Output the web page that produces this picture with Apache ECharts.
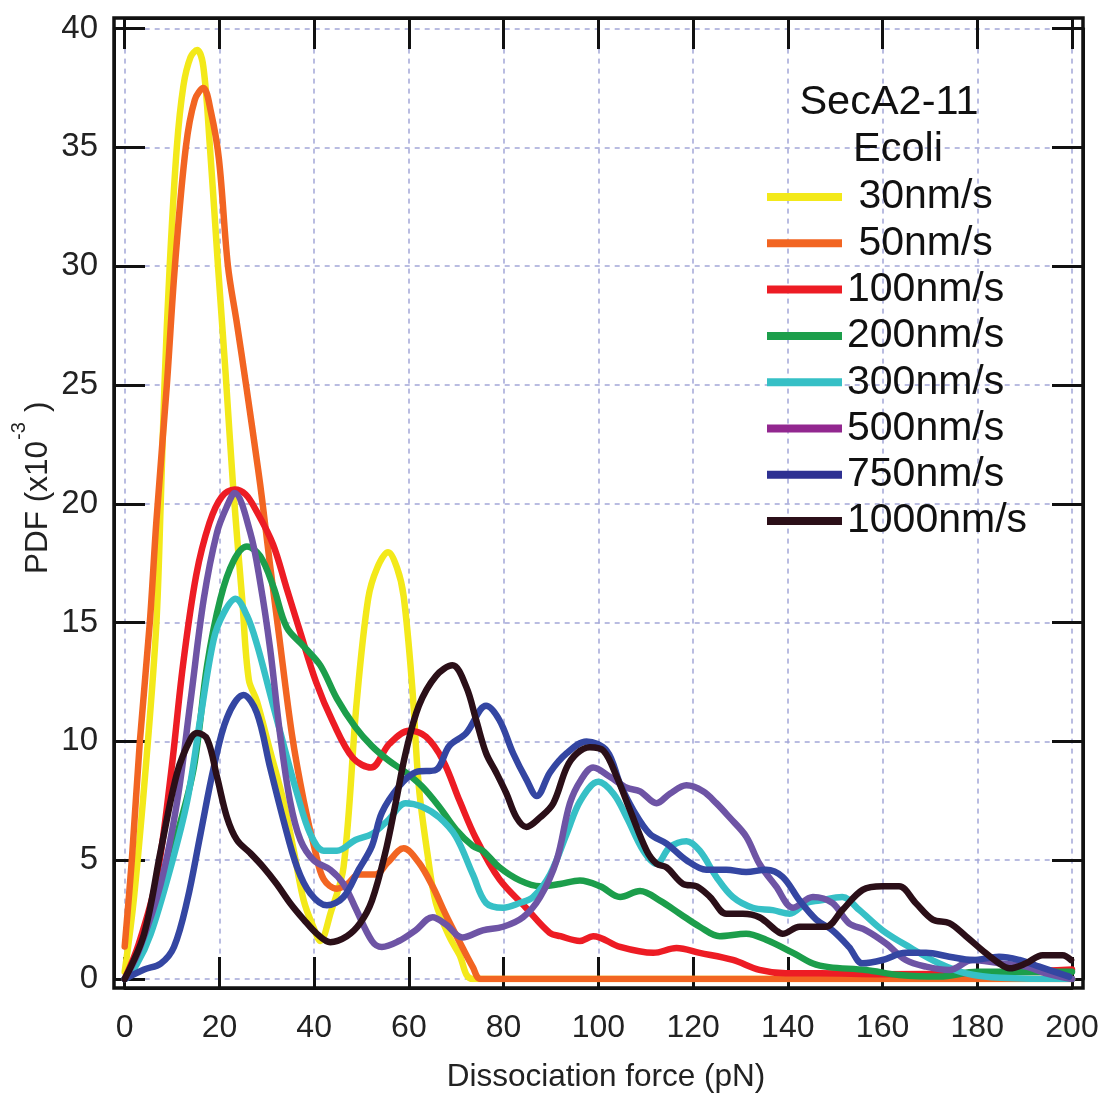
<!DOCTYPE html>
<html>
<head>
<meta charset="utf-8">
<script src="https://cdn.jsdelivr.net/npm/echarts@6/dist/echarts.min.js"></script>
<style>html,body{margin:0;padding:0;background:#fff}#c{width:1104px;height:1095px}</style>
</head>
<body>
<div id="c"></div>
<script>
// ---- data (force in pN, PDF x1e-3) ----
const seriesNames = ['30nm/s','50nm/s','100nm/s','200nm/s','300nm/s','500nm/s','750nm/s','1000nm/s'];
const xTicks = [0,20,40,60,80,100,120,140,160,180,200];
const yTicks = [0,5,10,15,20,25,30,35,40];

const x30 = [0,2,4.9,6.7,7.6,8.4,9.5,11.0,12.4,13.9,15.3,16.6,18.0,19.7,21.3,22.9,24.8,26.2,27.9,30.7,33.5,35.7,37.8,39.8,41.3,43.5,46.2,49.0,51.4,53.3,55.6,57.5,58.9,60.7,62.1,63.9,65.7,68.5,70.6,73.5,100,150,200];
const y30 = [0.3,3.5,10,15,20,25,30,35,37.6,38.8,39.1,38.4,35,30,25.5,20.7,16.0,12.6,11.7,9.6,7.5,5.4,3.3,2.2,1.6,2.8,4.7,11.7,16.0,17.3,17.96,17.3,16.1,12.3,8.1,5.3,3.2,1.8,1.05,0,0,0,0];

const x50 = [0,1.5,3.2,5.3,6.7,8.9,10.6,12.9,14.8,16.6,18.2,19.9,21.8,23.6,25.7,28.2,29.0,30.7,32.5,35.3,37.8,40.2,42.0,44.8,47,49.4,52.9,55.5,58.9,62.1,65.0,67.8,70.6,73.5,75.2,100,150,200];
const y50 = [1.37,5,10,15,19.3,25,30,35,37.0,37.5,36.5,34.5,30,27.7,24.9,21.4,20.2,17.4,14.6,10.3,7.5,5.4,4.2,3.8,4.0,4.4,4.4,4.9,5.5,4.9,3.9,2.7,1.6,0.5,0,0,0,0];

const x100 = [0,3,6.7,9.8,12.3,15.1,17.9,20.5,23.2,25.5,27.8,31.3,34.1,36.9,40.4,44.0,48.2,52.0,55.9,60.1,63.6,67.2,70.7,74.2,79.1,84.7,89.7,92,96.1,98.9,104.6,111.6,116.5,121.4,128.4,134,139.6,146.7,160,180,200];
const y100 = [0,1.5,4.2,8.7,13.2,17.0,19.2,20.3,20.6,20.4,19.7,18.3,16.5,14.7,12.5,10.8,9.3,8.9,9.9,10.45,10.2,9.2,7.5,5.9,4.2,3.0,1.95,1.8,1.6,1.8,1.35,1.1,1.3,1.1,0.8,0.38,0.24,0.24,0.2,0.25,0.4];

const x200 = [0,1.3,3.5,6.2,8.5,11.1,14.6,17.4,20.2,23.0,25.8,28.6,31.4,34.2,37.8,41.3,44.8,48.7,52.2,55.7,59.3,62.8,66.4,69.9,73.5,75.6,79.1,83.4,87.7,91.9,96.1,100.4,104.6,108.8,113,117.2,121.4,125.6,131.2,135.4,141.1,145.3,148.7,156.5,163.5,172,180,190,200];
const y200 = [0,0.2,1.2,2.6,4.2,6.1,8.9,13.2,16.0,17.6,18.2,17.8,16.5,14.8,14.0,13.2,11.8,10.6,9.8,9.2,8.7,8.1,7.25,6.3,5.6,5.4,4.7,4.15,3.9,4.0,4.15,3.9,3.45,3.7,3.3,2.75,2.2,1.8,1.9,1.65,1.1,0.65,0.5,0.38,0.17,0.1,0.3,0.3,0.3];

const x300 = [0,2.5,5.5,9.7,13.2,16.0,18.8,20.9,23.4,25.8,27.9,30.7,33.5,36.4,39.2,42.0,44.8,48.7,52.2,55.7,59.3,62.8,66.4,69.9,73.5,76.3,79.9,83.4,86.2,89.8,93.3,96.2,100,103.2,106,109.5,112.3,115.1,118.6,121.4,124.9,128.4,132.6,136.8,140.4,143.9,146.7,151.5,155.1,160,165.6,172,177.6,185,200];
const y300 = [0,0.6,1.9,4.7,7.5,11.0,14.3,15.4,16.0,15.3,14.1,12.0,9.9,7.8,6.1,5.4,5.4,5.85,6.1,6.7,7.4,7.25,6.8,6.0,4.4,3.2,3.0,3.2,3.45,4.4,6.1,7.5,8.3,7.8,6.8,5.4,4.85,5.55,5.8,5.4,4.3,3.45,3.0,2.9,2.75,3.2,3.3,3.45,2.9,2.05,1.35,0.65,0.24,0.05,0];

const x500 = [0,3,7.6,11.1,13.9,16.7,19.5,21.6,23.2,26.5,28.6,30.7,32.8,34.9,37.1,39.9,43.4,46.2,48.7,52.2,54.3,57.9,61.4,65.0,67.8,71.3,75.6,79.9,84.1,87.7,91.2,94.0,96.4,98.9,102.5,106,108.8,112.3,115.1,118.6,122.1,124.9,127.7,131.2,134,137.5,141.1,145.3,149.4,152.9,156.5,160.7,164.9,169.2,174.1,179.0,184.6,190.3,194.5,200];
const y500 = [0,1.2,4.0,7.5,11.7,16.0,18.8,19.9,20.45,18.8,16.7,13.9,10.3,7.5,5.85,5.0,4.6,4.0,3.0,1.6,1.35,1.6,2.05,2.6,2.3,1.75,2.05,2.2,2.6,3.45,5.0,7.4,8.4,8.9,8.5,8.05,7.9,7.4,7.8,8.15,7.9,7.4,6.8,6.0,4.85,3.9,3.0,3.45,3.2,2.35,2.05,1.5,0.8,0.52,0.38,0.8,0.66,0.52,0.24,0];

const x750 = [0,4.1,7.6,10.4,13.2,16,18.8,21.6,25.1,27.9,30.7,33.5,36.4,39.2,42.7,46.2,49.4,52.2,54.3,57.9,61.4,65.7,68.5,72.1,76.3,79.1,82.0,84.8,87.0,89.8,93.3,97.5,101.8,104.6,107.4,110.9,114.4,118.6,122.8,127,131.2,135.4,138.9,142.5,146,149.4,152.9,155.8,160,164.9,169.2,174.1,179,184.6,188.9,193.1,199.4];
const y750 = [0,0.4,0.65,1.35,3.3,6.1,8.9,11.0,11.95,11.2,8.9,6.7,4.7,3.6,3.1,3.45,4.6,5.6,7.0,8.1,8.7,8.8,9.8,10.35,11.5,10.9,9.5,8.4,7.7,8.7,9.5,10.0,9.6,8.2,7.1,6.1,5.7,5.0,4.6,4.6,4.5,4.6,4.3,3.3,2.5,2.05,1.35,0.66,0.8,1.1,1.1,0.94,0.8,0.94,0.8,0.52,0.1];

const x1000 = [0,4.1,7.6,11.1,13.9,15.3,17.4,19.5,21.6,23.7,26.5,29.3,32.1,34.9,37.8,40.6,43.4,46.9,49.7,52.2,55.0,57.2,59.3,62.1,65.7,69.2,72.1,74.2,76.3,78.4,80.6,82.7,84.8,87.7,90.5,93.3,95.5,98.2,101.1,103.9,106.7,110.2,112.3,114.4,117.9,120.8,123.6,127.0,130.5,134.0,137.5,138.9,142.5,148,151.5,155.8,160,163.5,167,170.6,174.1,177.6,181.1,184.6,186.8,190.3,193.8,198,199.8];
const y1000 = [0,1.9,5.4,8.7,10.1,10.35,10.1,8.5,6.8,5.85,5.3,4.7,4.0,3.2,2.5,1.9,1.55,1.8,2.35,3.3,5.3,7.4,9.5,11.5,12.75,13.2,12.3,10.9,9.5,8.7,7.8,6.8,6.4,6.8,7.4,8.9,9.5,9.75,9.6,8.5,7.1,5.4,4.85,4.7,4.0,3.9,3.45,2.75,2.75,2.6,2.05,1.9,2.2,2.2,2.9,3.75,3.9,3.9,3.2,2.5,2.35,1.8,1.2,0.66,0.45,0.66,1.0,1.0,0.8];

// ---- styles ----
const lineColors = ['#f3e91a','#f26522','#ed1c24','#1c9e4b','#36c0c6','#6e54a5','#3446a2','#2b0f18'];
const legendColors = ['#f3e91a','#f26522','#ed1c24','#1c9e4b','#36c0c6','#92278f','#2e3192','#2b0f18'];
const FONT = '"Liberation Sans", Arial, Helvetica, sans-serif';

const xs = [x30,x50,x100,x200,x300,x500,x750,x1000];
const ys = [y30,y50,y100,y200,y300,y500,y750,y1000];

const series = seriesNames.map((n, i) => ({
  name: n,
  type: 'line',
  xAxisIndex: 0, yAxisIndex: 0,
  data: xs[i].map((x, k) => [x, ys[i][k]]),
  showSymbol: false,
  smooth: 0.35,
  color: lineColors[i],
  lineStyle: { width: 6.5, color: lineColors[i], cap: 'round', join: 'round' },
  z: 2 + i
}));

const tickStyle = { inside: true, length: 31, lineStyle: { color: '#111', width: 3 } };
const axLine = { show: true, onZero: false, lineStyle: { color: '#111', width: 3 } };
const gridLine = { show: true, lineStyle: { color: '#a3a6d8', width: 1.5, type: [5, 5] } };

const chart = echarts.init(document.getElementById('c'), null, { renderer: 'canvas' });
chart.setOption({
  animation: false,
  backgroundColor: '#ffffff',
  grid: { left: 124.7, right: 32, top: 28.6, bottom: 116, containLabel: false },
  xAxis: [
    { type: 'value', position: 'bottom', offset: 9, min: xTicks[0], max: xTicks[xTicks.length-1], interval: 20,
      axisLine: axLine, axisTick: tickStyle,
      axisLabel: { margin: 24, fontSize: 32, fontFamily: FONT, color: '#222' },
      splitLine: gridLine },
    { type: 'value', position: 'top', offset: 10.6, min: xTicks[0], max: xTicks[xTicks.length-1], interval: 20,
      axisLine: axLine, axisTick: tickStyle,
      axisLabel: { show: false }, splitLine: { show: false } }
  ],
  yAxis: [
    { type: 'value', position: 'left', offset: 10.7, min: yTicks[0], max: yTicks[yTicks.length-1], interval: 5,
      axisLine: axLine, axisTick: tickStyle,
      axisLabel: { margin: 16, fontSize: 33, fontFamily: FONT, color: '#222', padding: [6, 0, 0, 0] },
      splitLine: gridLine },
    { type: 'value', position: 'right', offset: 11, min: yTicks[0], max: yTicks[yTicks.length-1], interval: 5,
      axisLine: axLine, axisTick: tickStyle,
      axisLabel: { show: false }, splitLine: { show: false } }
  ],
  legend: {
    orient: 'vertical', left: 767, top: 174, padding: 0, itemGap: 0.3,
    itemWidth: 75, itemHeight: 8, icon: 'rect', selectedMode: false,
    data: seriesNames.map((n, i) => ({ name: n, itemStyle: { color: legendColors[i], borderWidth: 0 } })),
    formatter: n => (n === '30nm/s' || n === '50nm/s') ? ' ' + n : n,
    textStyle: { fontSize: 41, fontFamily: FONT, color: '#111', lineHeight: 46 }
  },
  graphic: [
    { type: 'rect', z: 100, silent: true,
      shape: { x: 114, y: 18, width: 969, height: 970 },
      style: { fill: null, stroke: '#111', lineWidth: 3.5 } },
    { type: 'text', z: 100, x: 889, y: 103,
      style: { text: 'SecA2-11', fontSize: 41.5, fontFamily: FONT, fill: '#111', align: 'center', verticalAlign: 'middle' } },
    { type: 'text', z: 100, x: 898, y: 150,
      style: { text: 'Ecoli', fontSize: 41.5, fontFamily: FONT, fill: '#111', align: 'center', verticalAlign: 'middle' } },
    { type: 'text', z: 100, x: 606, y: 1077,
      style: { text: 'Dissociation force (pN)', fontSize: 31.5, fontFamily: FONT, fill: '#222', align: 'center', verticalAlign: 'middle' } },
    { type: 'text', z: 100, x: 38, y: 574, rotation: Math.PI / 2,
      style: { text: 'PDF (x10', fontSize: 31.5, fontFamily: FONT, fill: '#222', align: 'left', verticalAlign: 'middle' } },
    { type: 'text', z: 100, x: 19, y: 440, rotation: Math.PI / 2,
      style: { text: '-3', fontSize: 20, fontFamily: FONT, fill: '#222', align: 'left', verticalAlign: 'middle' } },
    { type: 'text', z: 100, x: 38, y: 412, rotation: Math.PI / 2,
      style: { text: ')', fontSize: 31.5, fontFamily: FONT, fill: '#222', align: 'left', verticalAlign: 'middle' } }
  ],
  series: series
});
</script>
</body>
</html>
